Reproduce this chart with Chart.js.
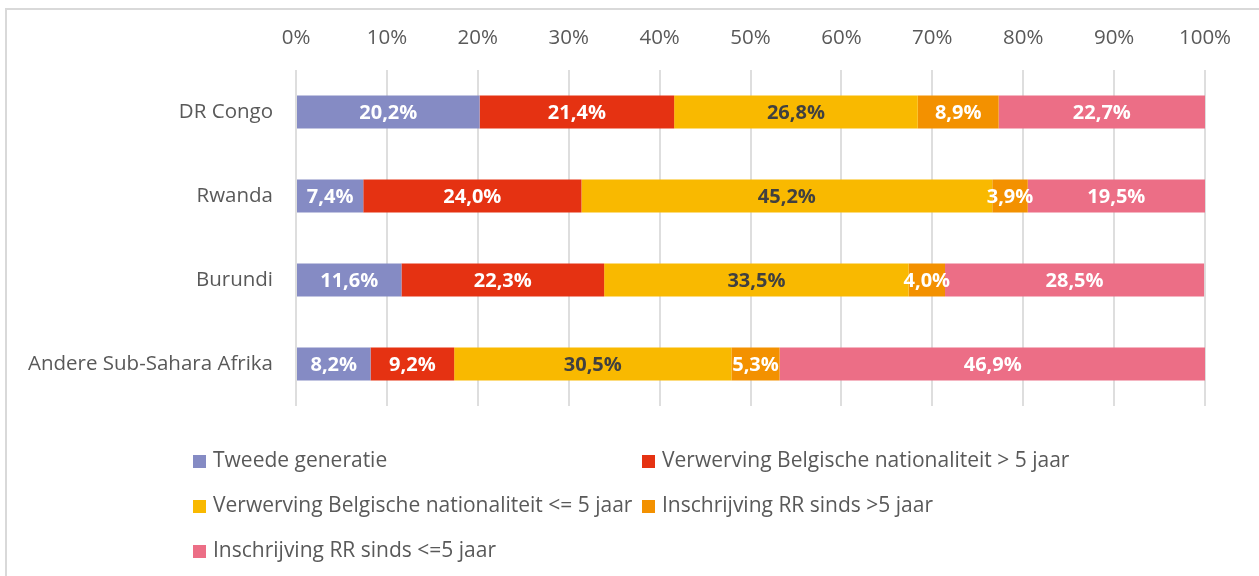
<!DOCTYPE html>
<html lang="nl">
<head>
  <meta charset="UTF-8">
  <title>Afkomst per land</title>
  <script src="https://cdn.jsdelivr.net/npm/chart.js"></script>
  <style>
    body { margin: 0; background: #fff; font-family: "Open Sans", sans-serif; }
    .frame { position: absolute; left: 5px; top: 8px; width: 2000px; height: 2000px; border: 2px solid #d9d9d9; }
    #chart { position: absolute; left: 0; top: 0; }
    .legend { position: absolute; left: 193px; top: 437px; display: grid; grid-template-columns: 449px 449px; }
    .legend div { height: 45px; line-height: 45px; font-size: 21px; color: #595959; white-space: nowrap; }
    .legend span { display: inline-block; width: 13px; height: 13px; margin-right: 7px; vertical-align: -1px; }
  </style>
</head>
<body>
<div class="frame"></div>
<canvas id="chart" width="1259" height="440"></canvas>
<div class="legend" id="legend"></div>

<script>
const countries = ["DR Congo", "Rwanda", "Burundi", "Andere Sub-Sahara Afrika"];
const groups = [
  "Tweede generatie",
  "Verwerving Belgische nationaliteit > 5 jaar",
  "Verwerving Belgische nationaliteit <= 5 jaar",
  "Inschrijving RR sinds >5 jaar",
  "Inschrijving RR sinds <=5 jaar"
];
// per groep, waarde per land (in %)
const tweedeGeneratie = [20.2, 7.4, 11.6, 8.2];
const nationaliteitOud = [21.4, 24.0, 22.3, 9.2];
const nationaliteitNieuw = [26.8, 45.2, 33.5, 30.5];
const rrOud = [8.9, 3.9, 4.0, 5.3];
const rrNieuw = [22.7, 19.5, 28.5, 46.9];
const xTicks = [0, 10, 20, 30, 40, 50, 60, 70, 80, 90, 100];

const colors = ["#858bc4", "#e53212", "#f9b900", "#f39100", "#ec6e86"];
const labelColors = ["#ffffff", "#ffffff", "#404040", "#ffffff", "#ffffff"];
const series = [tweedeGeneratie, nationaliteitOud, nationaliteitNieuw, rrOud, rrNieuw];

// waarden in de balken tekenen
const barLabels = {
  id: "barLabels",
  afterDatasetsDraw(chart) {
    const ctx = chart.ctx;
    ctx.save();
    ctx.font = "bold 20px 'Open Sans'";
    ctx.textAlign = "center";
    ctx.textBaseline = "middle";
    chart.data.datasets.forEach((ds, i) => {
      chart.getDatasetMeta(i).data.forEach((bar, j) => {
        const v = ds.data[j];
        ctx.fillStyle = labelColors[i];
        ctx.fillText(v.toFixed(1).replace(".", ",") + "%", (bar.x + bar.base) / 2, bar.y + 1);
      });
    });
    ctx.restore();
  }
};

new Chart(document.getElementById("chart"), {
  type: "bar",
  data: {
    labels: countries,
    datasets: groups.map((g, i) => ({
      label: g,
      data: series[i],
      backgroundColor: colors[i],
      categoryPercentage: 1,
      barPercentage: 33 / 84
    }))
  },
  options: {
    indexAxis: "y",
    responsive: false,
    animation: false,
    layout: { padding: { top: 0, right: 54, bottom: 34, left: 0 } },
    plugins: { legend: { display: false }, tooltip: { enabled: false } },
    scales: {
      x: {
        position: "top",
        stacked: true,
        min: 0,
        max: 100,
        afterBuildTicks: s => { s.ticks = xTicks.map(v => ({ value: v })); },
        afterFit: s => { s.height = 70; },
        grid: { color: "#dedede", lineWidth: 2, drawTicks: false },
        border: { display: false },
        ticks: {
          color: "#595959",
          font: { family: "Open Sans", size: 20.5 },
          padding: 20,
          callback: v => v + "%"
        }
      },
      y: {
        stacked: true,
        afterFit: s => { s.width = 296; },
        grid: { display: false },
        border: { display: false },
        ticks: {
          color: "#595959",
          font: { family: "Open Sans", size: 20.5 },
          padding: 15
        }
      }
    }
  },
  plugins: [barLabels]
});

const legend = document.getElementById("legend");
groups.forEach((g, i) => {
  const item = document.createElement("div");
  const box = document.createElement("span");
  box.style.background = colors[i];
  item.appendChild(box);
  item.appendChild(document.createTextNode(g));
  legend.appendChild(item);
});
</script>
</body>
</html>
